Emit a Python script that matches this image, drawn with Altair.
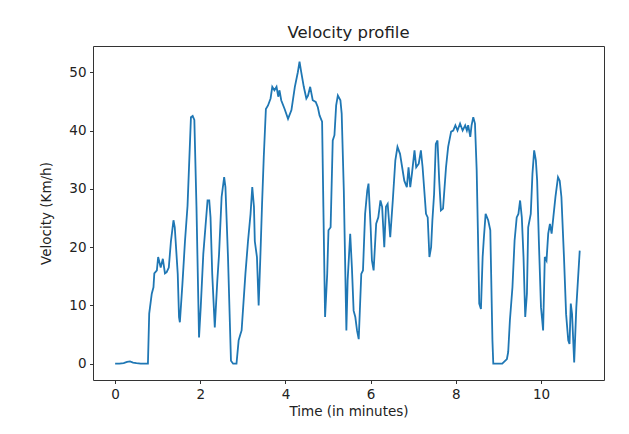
import altair as alt
import pandas as pd

# Time (minutes) and velocity (km/h)
time_min = [
    0.00, 0.10, 0.20, 0.28, 0.35, 0.42, 0.50, 0.60, 0.70, 0.77,
    0.80, 0.86, 0.90, 0.92, 0.98, 1.01, 1.07, 1.12, 1.17, 1.21,
    1.26, 1.31, 1.37, 1.40, 1.47, 1.50, 1.52, 1.58, 1.64, 1.70,
    1.78, 1.82, 1.86, 1.91, 1.97, 2.01, 2.07, 2.12, 2.17, 2.21,
    2.24, 2.28, 2.34, 2.40, 2.44, 2.50, 2.56, 2.59, 2.65, 2.72,
    2.77, 2.85, 2.90, 2.94, 2.97, 3.06, 3.12, 3.18, 3.22, 3.26,
    3.28, 3.33, 3.37, 3.41, 3.45, 3.49, 3.54, 3.59, 3.65, 3.69,
    3.74, 3.79, 3.83, 3.86, 3.90, 3.98, 4.06, 4.14, 4.22, 4.29,
    4.33, 4.37, 4.43, 4.49, 4.53, 4.58, 4.64, 4.71, 4.76, 4.80,
    4.86, 4.89, 4.93, 4.98, 5.01, 5.06, 5.11, 5.15, 5.19, 5.23,
    5.29, 5.32, 5.37, 5.43, 5.46, 5.52, 5.56, 5.60, 5.64, 5.68,
    5.72, 5.78, 5.82, 5.87, 5.92, 5.95, 6.00, 6.03, 6.07, 6.13,
    6.18, 6.23, 6.27, 6.32, 6.36, 6.40, 6.46, 6.52, 6.58, 6.63,
    6.69, 6.74, 6.79, 6.85, 6.89, 6.93, 6.97, 7.03, 7.07, 7.13,
    7.18, 7.22, 7.26, 7.30, 7.34, 7.38, 7.42, 7.45, 7.49, 7.53,
    7.57, 7.61, 7.65, 7.70, 7.77, 7.82, 7.89, 7.94, 7.99, 8.04,
    8.10, 8.16, 8.22, 8.26, 8.29, 8.34, 8.37, 8.41, 8.45, 8.49,
    8.52, 8.55, 8.59, 8.63, 8.66, 8.70, 8.76, 8.81, 8.86, 8.88,
    8.98, 9.09, 9.20, 9.23, 9.27, 9.33, 9.38, 9.43, 9.47, 9.51,
    9.55, 9.59, 9.63, 9.67, 9.70, 9.76, 9.80, 9.84, 9.88, 9.91,
    9.95, 10.00, 10.03, 10.05, 10.09, 10.13, 10.17, 10.21, 10.25, 10.29,
    10.34, 10.40, 10.44, 10.48, 10.54, 10.59, 10.64, 10.67, 10.70, 10.73,
    10.78, 10.83, 10.91,
]
velocity_kmh = [
    0.0, 0.0, 0.1, 0.3, 0.4, 0.2, 0.1, 0.0, 0.0, 0.0,
    8.6, 12.0, 13.1, 15.5, 16.0, 18.3, 16.5, 18.0, 15.5, 15.7,
    16.5, 21.0, 24.6, 23.4, 15.4, 8.0, 7.1, 13.7, 21.0, 27.1,
    42.3, 42.5, 41.8, 26.9, 4.5, 9.7, 18.8, 23.4, 28.0, 28.0,
    25.1, 15.4, 6.2, 14.3, 18.8, 28.6, 32.0, 30.3, 18.3, 0.5,
    0.0, 0.0, 4.0, 5.0, 5.7, 15.5, 21.0, 25.7, 30.3, 26.9,
    21.0, 18.3, 10.0, 18.3, 27.4, 35.4, 43.7, 44.3, 45.5, 47.5,
    46.9, 47.5, 45.8, 46.9, 45.2, 43.7, 42.0, 43.5, 47.5, 50.0,
    51.8, 50.0, 47.5, 45.5, 46.0, 47.5, 45.2, 44.9, 44.0, 42.6,
    41.5, 26.9, 8.0, 15.4, 22.9, 23.4, 38.3, 39.2, 44.3, 46.0,
    45.2, 42.9, 29.7, 5.7, 14.3, 22.3, 16.5, 9.1, 8.0, 5.7,
    4.2, 15.4, 16.0, 25.7, 29.7, 30.9, 23.4, 17.7, 16.0, 24.0,
    25.1, 28.0, 26.9, 20.0, 26.9, 27.4, 21.7, 28.0, 34.9, 37.2,
    36.0, 33.7, 31.4, 30.3, 33.7, 30.3, 32.6, 36.6, 33.7, 34.3,
    36.6, 33.7, 29.7, 25.7, 25.1, 18.3, 20.0, 24.6, 29.1, 37.7,
    38.3, 31.4, 26.3, 26.6, 33.7, 37.2, 39.8, 40.0, 40.9, 40.0,
    41.2, 40.0, 40.9, 40.0, 40.9, 38.9, 40.9, 42.3, 41.2, 33.2,
    22.3, 10.3, 9.4, 18.3, 21.7, 25.7, 24.6, 22.9, 4.0, 0.0,
    0.0, 0.0, 0.8, 2.0, 7.4, 13.1, 21.1, 25.1, 25.7, 28.0,
    25.1, 18.3, 8.0, 12.0, 23.4, 25.7, 32.6, 36.6, 34.9, 31.4,
    21.1, 9.7, 7.4, 5.7, 18.3, 17.7, 22.3, 24.0, 22.3, 25.1,
    28.6, 32.0, 31.4, 28.6, 18.3, 8.5, 4.0, 3.4, 10.3, 8.5,
    0.2, 9.7, 19.4,
]
x_ticks = [0, 2, 4, 6, 8, 10]
y_ticks = [0, 10, 20, 30, 40, 50]

df = pd.DataFrame({"t": time_min, "v": velocity_kmh})

FONT = "DejaVu Sans"

chart = (
    alt.Chart(df)
    .mark_line(color="#1f77b4", strokeWidth=1.8)
    .encode(
        x=alt.X(
            "t:Q",
            scale=alt.Scale(domain=[-0.52, 11.48], nice=False, zero=False),
            axis=alt.Axis(values=x_ticks, title="Time (in minutes)", titlePadding=4),
        ),
        y=alt.Y(
            "v:Q",
            scale=alt.Scale(domain=[-2.8, 54.5], nice=False, zero=False),
            axis=alt.Axis(values=y_ticks, title="Velocity (Km/h)", titlePadding=15),
        ),
    )
    .properties(
        width=511,
        height=334,
        title=alt.Title(
            "Velocity profile",
            fontSize=16.5,
            fontWeight="normal",
            font=FONT,
            color="#222222",
            offset=5,
        ),
        autosize=alt.AutoSizeParams(type="none"),
        padding={"left": 85, "top": 38, "right": 17, "bottom": 46},
    )
    .configure_view(stroke="#333333", strokeWidth=1)
    .configure_axis(
        grid=False,
        domain=False,
        tickColor="#333333",
        tickSize=3.5,
        labelPadding=3.5,
        labelFont=FONT,
        labelFontSize=13.5,
        labelColor="#222222",
        titleFont=FONT,
        titleFontSize=13.5,
        titleFontWeight="normal",
        titleColor="#222222",
    )
)

chart.save("out.html", embed_options={"renderer": "svg", "actions": False})
